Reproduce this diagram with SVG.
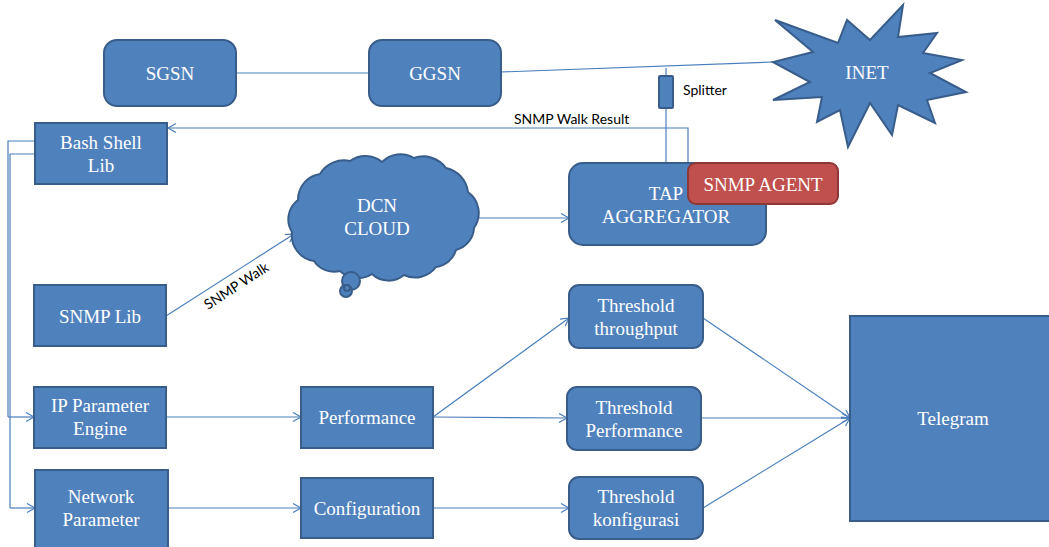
<svg xmlns="http://www.w3.org/2000/svg" width="1049" height="547" viewBox="0 0 1049 547">
<style>
.n{fill:#4F81BD;stroke:#385D8A;stroke-width:2}
.r{fill:#C0504D;stroke:#8C3836;stroke-width:2}
.t{font-family:"Liberation Serif","Times New Roman",serif;font-size:19px;fill:#FFFFFF;text-anchor:middle}
.c{fill:none;stroke:#4A7EBB;stroke-width:1.2}
.a{marker-end:url(#arr)}
.l{font-family:Lato,"Liberation Sans",Arial,sans-serif;font-size:14px;fill:#000000}
</style>
<defs>
<marker id="arr" markerWidth="12" markerHeight="12" refX="9" refY="5" orient="auto" markerUnits="userSpaceOnUse">
<path d="M1,0.5 L9,5 L1,9.5" fill="none" stroke="#4A7EBB" stroke-width="1.2"/>
</marker>
</defs>
<rect width="1049" height="547" fill="#FFFFFF"/>
<g id="connectors">
<line class="c" x1="236" y1="73" x2="369" y2="73"/>
<line class="c" x1="501" y1="72" x2="773" y2="62"/>
<line class="c" x1="666" y1="68" x2="666" y2="76"/>
<line class="c" x1="666" y1="108" x2="666" y2="163"/>
<polyline class="c a" points="688,163 688,128 168,128"/>
<polyline class="c" points="35,141 8,141 8,417"/>
<line class="c a" x1="8" y1="417" x2="34" y2="417"/>
<polyline class="c" points="35,154 10,154 10,508"/>
<line class="c a" x1="10" y1="508" x2="35" y2="508"/>
<line class="c a" x1="166" y1="316" x2="294" y2="234"/>
<line class="c a" x1="478" y1="218" x2="569" y2="218"/>
<line class="c a" x1="166" y1="417" x2="301" y2="417"/>
<line class="c a" x1="168" y1="508" x2="301" y2="508"/>
<line class="c a" x1="433" y1="417" x2="569" y2="318"/>
<line class="c a" x1="433" y1="417" x2="567" y2="418"/>
<line class="c a" x1="433" y1="508" x2="569" y2="508"/>
<line class="c a" x1="703" y1="318" x2="850" y2="418"/>
<line class="c a" x1="701" y1="418" x2="850" y2="418"/>
<line class="c a" x1="703" y1="508" x2="850" y2="418"/>
<text class="l" x="514" y="124">SNMP Walk Result</text>
<text class="l" x="0" y="0" text-anchor="middle" transform="translate(239,290) rotate(-33)">SNMP Walk</text>
</g>
<g id="sgsn">
<rect class="n" x="104" y="40" width="132" height="66" rx="13"/>
<text class="t" x="170" y="80">SGSN</text>
</g>
<g id="ggsn">
<rect class="n" x="369" y="40" width="132" height="66" rx="13"/>
<text class="t" x="435" y="80">GGSN</text>
</g>
<g id="inet">
<polygon class="n" points="775,20 838,43 847,20 870,40 903,5 898,37 937,33 923,53 962,60 930,73 966,92 927,100 935,123 898,105 892,135 870,103 848,147 840,110 817,122 822,97 773,100 810,82 773,62 813,52"/>
<text class="t" x="867" y="79">INET</text>
</g>
<g id="splitter">
<rect class="n" x="659" y="76" width="14" height="32" rx="1" stroke-width="1.5"/>
<text class="l" x="683" y="95">Splitter</text>
</g>
<g id="bash">
<rect class="n" x="35" y="123" width="132" height="61"/>
<text class="t" x="101" y="149">Bash Shell</text>
<text class="t" x="101" y="172">Lib</text>
</g>
<g id="dcn">
<path class="n" d="M292,232 A24,24 0 0 1 298,200 A26,26 0 0 1 320,174 A28,28 0 0 1 350,161 A26,26 0 0 1 382,162 A26,26 0 0 1 414,158 A28,28 0 0 1 446,168 A28,28 0 0 1 468,192 A26,26 0 0 1 474,228 A24,24 0 0 1 456,250 A24,24 0 0 1 436,267 A26,26 0 0 1 404,275 A24,24 0 0 1 372,274 A26,26 0 0 1 340,271 A24,24 0 0 1 314,261 A26,26 0 0 1 292,232 Z"/>
<circle class="n" cx="351" cy="281" r="9"/>
<circle class="n" cx="346" cy="291" r="6"/>
<circle class="n" cx="347" cy="288" r="3" stroke-width="1"/>
<text class="t" x="377" y="212">DCN</text>
<text class="t" x="377" y="235">CLOUD</text>
</g>
<g id="tap">
<rect class="n" x="569" y="163" width="197" height="82" rx="14"/>
<text class="t" x="666" y="200">TAP</text>
<text class="t" x="666" y="223">AGGREGATOR</text>
</g>
<g id="snmpagent">
<rect class="r" x="688" y="163" width="150" height="41" rx="8"/>
<text class="t" x="763" y="191">SNMP AGENT</text>
</g>
<g id="snmplib">
<rect class="n" x="34" y="285" width="132" height="61"/>
<text class="t" x="100" y="323">SNMP Lib</text>
</g>
<g id="ipparam">
<rect class="n" x="34" y="387" width="132" height="61"/>
<text class="t" x="100" y="412">IP Parameter</text>
<text class="t" x="100" y="435">Engine</text>
</g>
<g id="netparam">
<rect class="n" x="35" y="470" width="133" height="78"/>
<text class="t" x="101" y="503">Network</text>
<text class="t" x="101" y="526">Parameter</text>
</g>
<g id="performance">
<rect class="n" x="301" y="387" width="132" height="61"/>
<text class="t" x="367" y="424">Performance</text>
</g>
<g id="configuration">
<rect class="n" x="301" y="478" width="132" height="60"/>
<text class="t" x="367" y="515">Configuration</text>
</g>
<g id="th-throughput">
<rect class="n" x="569" y="285" width="134" height="63" rx="10"/>
<text class="t" x="636" y="312">Threshold</text>
<text class="t" x="636" y="335">throughput</text>
</g>
<g id="th-performance">
<rect class="n" x="567" y="387" width="134" height="63" rx="10"/>
<text class="t" x="634" y="414">Threshold</text>
<text class="t" x="634" y="437">Performance</text>
</g>
<g id="th-konfigurasi">
<rect class="n" x="569" y="477" width="134" height="62" rx="10"/>
<text class="t" x="636" y="503">Threshold</text>
<text class="t" x="636" y="526">konfigurasi</text>
</g>
<g id="telegram">
<rect class="n" x="850" y="316" width="208" height="205"/>
<text class="t" x="953" y="425">Telegram</text>
</g>
</svg>
